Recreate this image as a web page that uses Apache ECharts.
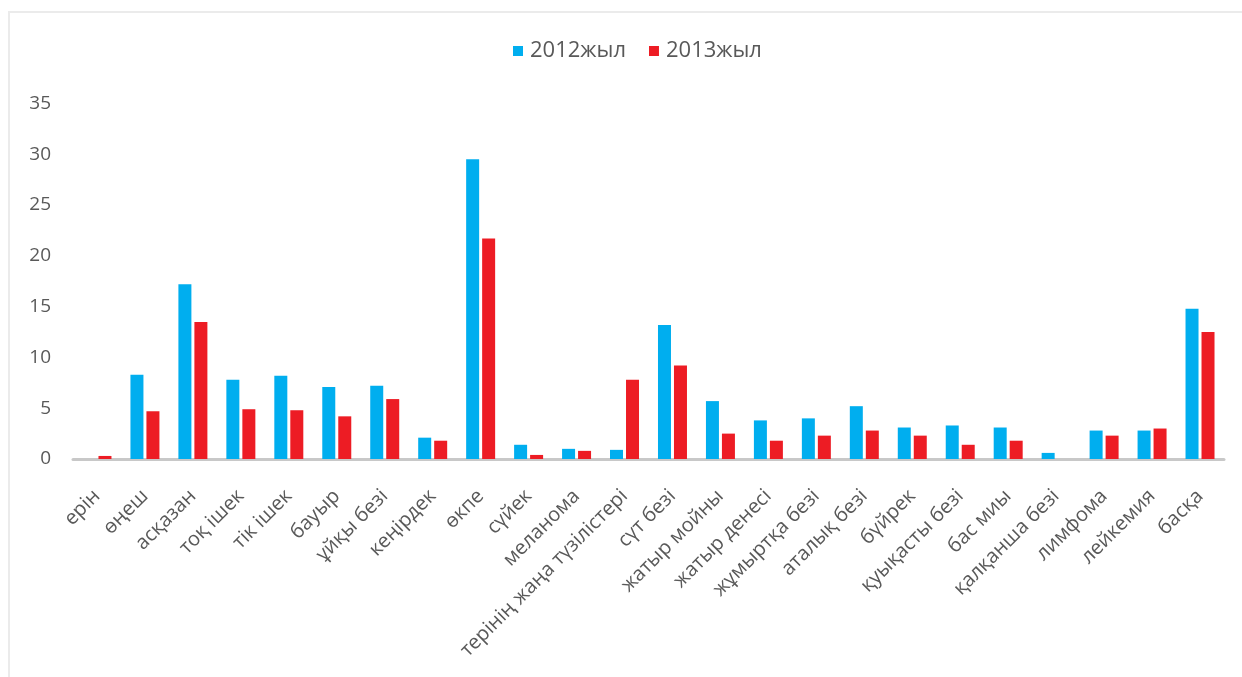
<!DOCTYPE html>
<html>
<head>
<meta charset="utf-8">
<style>
  html, body { margin: 0; padding: 0; background: #ffffff; }
  #frame {
    position: absolute; left: 8px; top: 11px; width: 1234px; height: 666px;
    border-left: 2px solid #ebebeb; border-top: 2px solid #ebebeb;
  }
  #chart { position: absolute; left: 0; top: 0; width: 1242px; height: 677px; }
</style>
<script src="https://cdn.jsdelivr.net/npm/echarts@6/dist/echarts.min.js"></script>
</head>
<body>
<div id="frame"></div>
<div id="chart"></div>
<script>
// Cancer sites (Kazakh labels)
const categories = [
  'ерін', 'өңеш', 'асқазан', 'тоқ ішек', 'тік ішек', 'бауыр', 'ұйқы безі',
  'кеңірдек', 'өкпе', 'сүйек', 'меланома', 'терінің жаңа түзілістері',
  'сүт безі', 'жатыр мойны', 'жатыр денесі', 'жұмыртқа безі', 'аталық безі',
  'бүйрек', 'қуықасты безі', 'бас миы', 'қалқанша безі', 'лимфома',
  'лейкемия', 'басқа'
];
const seriesNames = ['2012жыл', '2013жыл'];
const values2012 = [0, 8.3, 17.2, 7.8, 8.2, 7.1, 7.2, 2.1, 29.5, 1.4, 1.0, 0.9,
  13.2, 5.7, 3.8, 4.0, 5.2, 3.1, 3.3, 3.1, 0.6, 2.8, 2.8, 14.8];
const values2013 = [0.3, 4.7, 13.5, 4.9, 4.8, 4.2, 5.9, 1.8, 21.7, 0.4, 0.8, 7.8,
  9.2, 2.5, 1.8, 2.3, 2.8, 2.3, 1.4, 1.8, 0, 2.3, 3.0, 12.5];
const yTicks = { min: 0, max: 35, interval: 5 };

const fontFamily = '"Open Sans", "Noto Sans", sans-serif';
const textColor = '#595959';

const chart = echarts.init(document.getElementById('chart'), null, { renderer: 'canvas' });
chart.setOption({
  animation: false,
  backgroundColor: 'transparent',
  textStyle: { fontFamily: fontFamily },
  legend: {
    top: 35,
    left: 508,
    itemWidth: 10,
    itemHeight: 10,
    itemGap: 23,
    icon: 'rect',
    textStyle: { fontSize: 22, color: textColor, fontFamily: fontFamily, padding: [0, 0, 0, 2] },
    data: seriesNames
  },
  grid: { left: 73, right: 18, top: 103.5, bottom: 218, containLabel: false },
  xAxis: {
    type: 'category',
    data: categories,
    axisLine: { lineStyle: { color: '#c8c8c8', width: 3 } },
    axisTick: { show: false },
    axisLabel: {
      rotate: 45,
      interval: 0,
      margin: 34,
      fontSize: 20,
      color: textColor,
      fontFamily: fontFamily
    }
  },
  yAxis: {
    type: 'value',
    min: yTicks.min,
    max: yTicks.max,
    interval: yTicks.interval,
    axisLine: { show: false },
    axisTick: { show: false },
    splitLine: { show: false },
    axisLabel: { fontSize: 19, color: textColor, margin: 22, fontFamily: fontFamily }
  },
  series: [
    {
      name: seriesNames[0],
      type: 'bar',
      data: values2012,
      barWidth: 13,
      barGap: '23%',
      itemStyle: { color: '#00aeef' }
    },
    {
      name: seriesNames[1],
      type: 'bar',
      data: values2013,
      barWidth: 13,
      itemStyle: { color: '#ed1c24' }
    }
  ]
});
</script>
</body>
</html>
